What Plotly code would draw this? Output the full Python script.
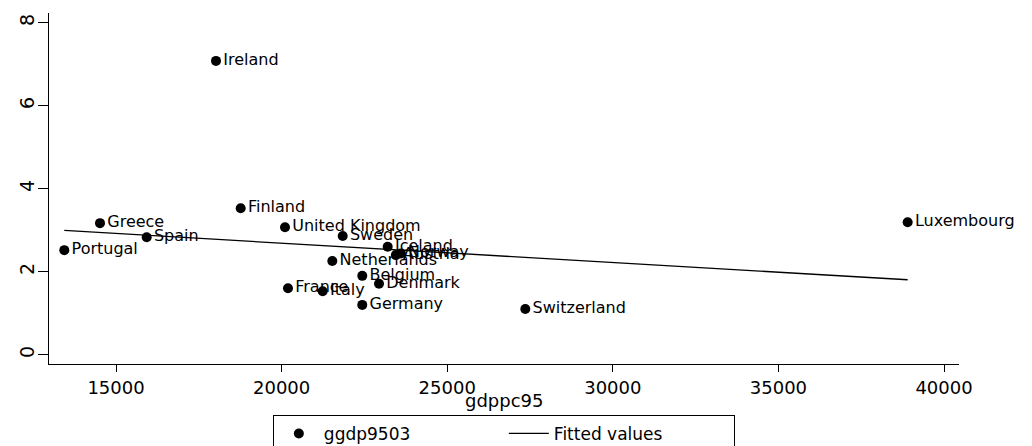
import numpy as np
import plotly.graph_objects as go

countries = ["Ireland", "Luxembourg", "Switzerland", "Greece", "Spain", "Portugal",
             "Finland", "Sweden", "Iceland", "Austria", "Norway", "Netherlands",
             "Belgium", "Denmark", "Germany", "Italy", "France", "United Kingdom"]
gdppc95 = [18019, 38903, 27358, 14517, 15927, 13439,
           18765, 21845, 23203, 23450, 23600, 21531,
           22436, 22941, 22436, 21241, 20193, 20103]
ggdp9503 = [7.08, 3.19, 1.10, 3.17, 2.83, 2.52,
            3.53, 2.86, 2.60, 2.40, 2.44, 2.26,
            1.90, 1.71, 1.20, 1.53, 1.60, 3.07]

x_ticks = [15000, 20000, 25000, 30000, 35000, 40000]
y_ticks = [0, 2, 4, 6, 8]
x_title = "gdppc95"

xa = np.array(gdppc95, dtype=float)
ya = np.array(ggdp9503, dtype=float)
slope, intercept = np.polyfit(xa, ya, 1)
fit_x = [xa.min(), xa.max()]
fit_y = [intercept + slope * v for v in fit_x]

FONT = "DejaVu Sans"

fig = go.Figure()
fig.add_trace(go.Scatter(
    x=gdppc95, y=ggdp9503, mode="markers+text", name="ggdp9503",
    text=countries, textposition="middle right",
    textfont=dict(family=FONT, size=16, color="black"),
    marker=dict(color="black", size=10, symbol="circle"),
    cliponaxis=False,
))
fig.add_trace(go.Scatter(
    x=fit_x, y=fit_y, mode="lines", name="Fitted values",
    line=dict(color="black", width=1.3),
    cliponaxis=False,
))

fig.update_layout(
    width=1032, height=446,
    margin=dict(l=49, r=73, t=13, b=82, autoexpand=False),
    paper_bgcolor="white", plot_bgcolor="white",
    font=dict(family=FONT, size=18, color="black"),
    showlegend=True,
    legend=dict(orientation="h", x=0.246, xanchor="left", y=-0.145, yanchor="top",
                bordercolor="black", borderwidth=1, bgcolor="white",
                font=dict(family=FONT, size=17, color="black"),
                entrywidth=175, entrywidthmode="pixels", itemwidth=40),
    annotations=[dict(text=x_title, xref="paper", yref="paper", x=0.5, y=-0.1026,
                      xanchor="center", yanchor="middle", showarrow=False,
                      font=dict(family=FONT, size=18, color="black"))],
)
fig.update_xaxes(
    range=[12977, 40453], tickvals=x_ticks, ticktext=[str(v) for v in x_ticks],
    showgrid=False, zeroline=False, showline=True, linecolor="black", linewidth=1,
    ticks="outside", ticklen=7, tickcolor="black", tickwidth=1,
    tickfont=dict(family=FONT, size=18),
)
fig.update_yaxes(
    range=[-0.224, 8.234], tickvals=y_ticks, ticktext=[str(v) for v in y_ticks],
    showgrid=False, zeroline=False, showline=True, linecolor="black", linewidth=1,
    ticks="outside", ticklen=10, tickcolor="black", tickwidth=1, tickangle=-90,
    tickfont=dict(family=FONT, size=19),
)
try:
    fig.update_yaxes(ticklabelstandoff=-4)
except Exception:
    pass

fig.write_html("out.html", post_script="document.body.style.margin='0';",
               config={"displayModeBar": False})
